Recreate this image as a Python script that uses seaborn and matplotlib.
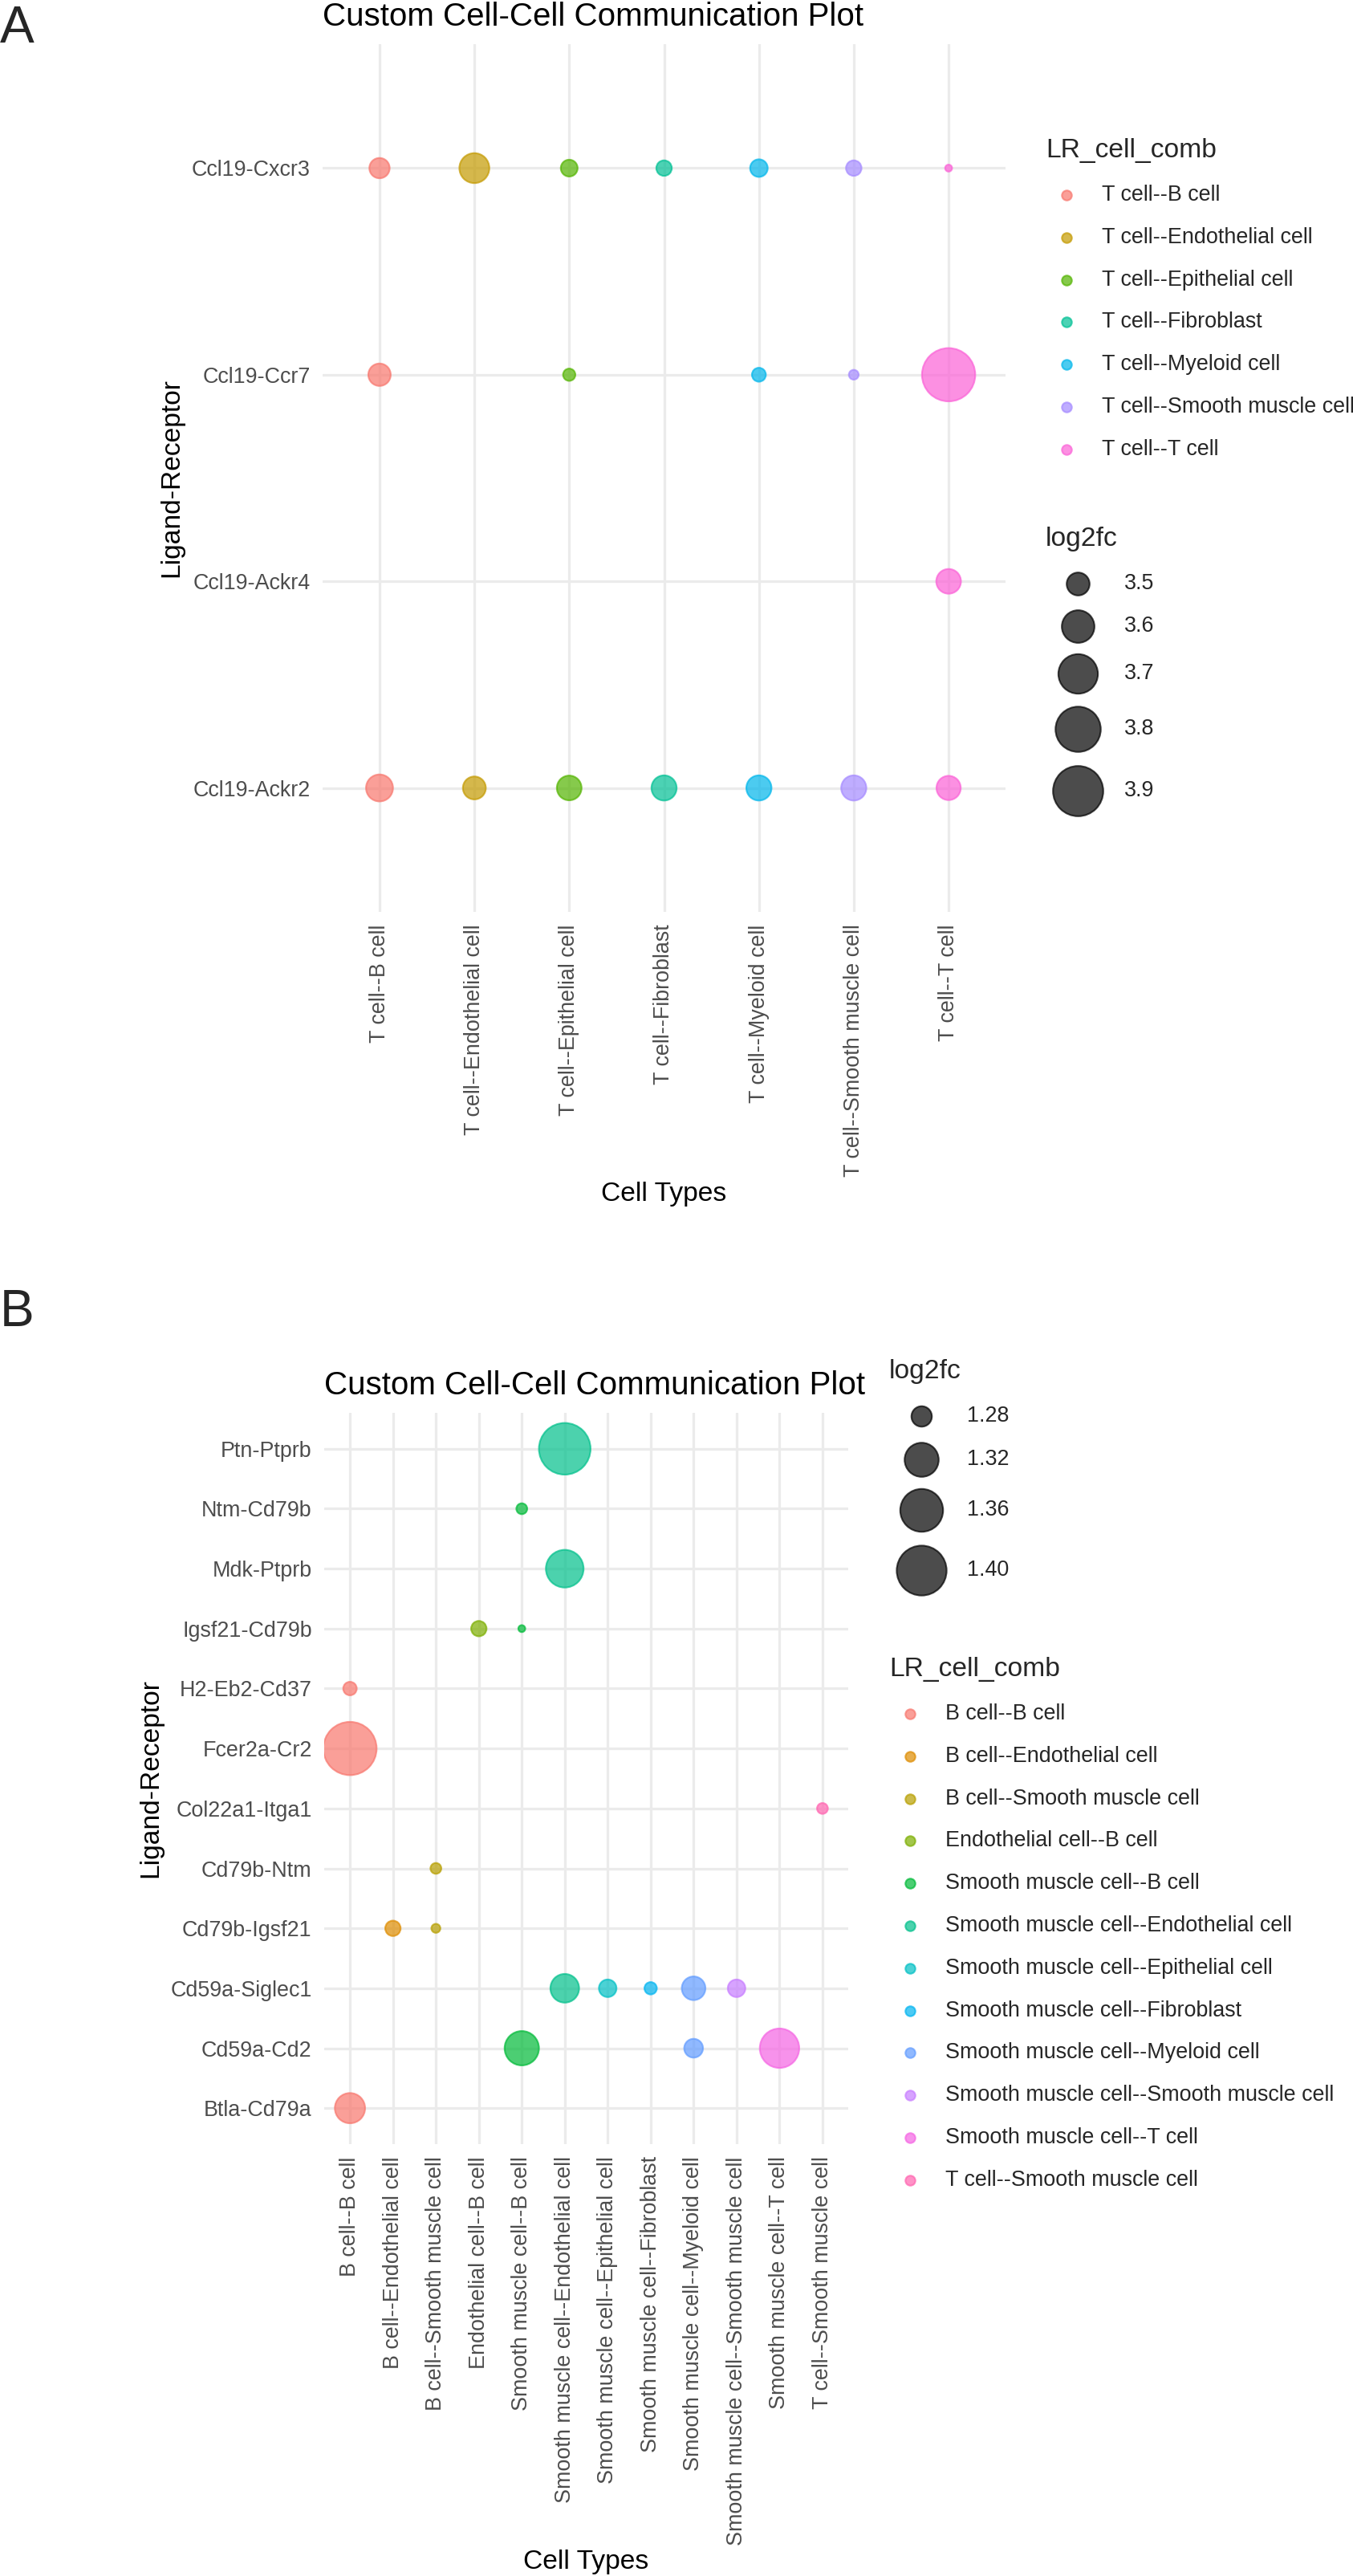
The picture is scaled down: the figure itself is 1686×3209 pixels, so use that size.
import numpy as np
import pandas as pd
import seaborn as sns
import matplotlib
matplotlib.use("Agg")
from matplotlib import pyplot as plt

sns.set_theme(style="white")
plt.rcParams['font.family'] = ['Liberation Sans', 'DejaVu Sans']

DPI = 220
W, H = 1686, 3209
PX = 72 / DPI          # points per pixel
EDGE = 0.7             # point outline width (pt)
ALPHA = 0.7

# ---------------- panel A data ----------------
a_pairs = ["Ccl19-Ackr2", "Ccl19-Ackr4", "Ccl19-Ccr7", "Ccl19-Cxcr3"]   # bottom -> top
a_cells = ["T cell--B cell", "T cell--Endothelial cell", "T cell--Epithelial cell",
           "T cell--Fibroblast", "T cell--Myeloid cell", "T cell--Smooth muscle cell",
           "T cell--T cell"]
a_lr = (["Ccl19-Cxcr3"] * 7 + ["Ccl19-Ccr7"] * 5 + ["Ccl19-Ackr4"] + ["Ccl19-Ackr2"] * 7)
a_comb = (a_cells
          + ["T cell--B cell", "T cell--Epithelial cell", "T cell--Myeloid cell",
             "T cell--Smooth muscle cell", "T cell--T cell"]
          + ["T cell--T cell"]
          + a_cells)
a_log2fc = [3.481, 3.568, 3.461, 3.455, 3.465, 3.455, 3.437,
            3.496, 3.444, 3.449, 3.439, 3.968,
            3.515,
            3.536, 3.500, 3.515, 3.519, 3.519, 3.519, 3.511]
a_colors = ["#F8766D", "#C49A00", "#53B400", "#00C094", "#00B6EB", "#A58AFF", "#FB61D7"]
a_size_breaks = [3.5, 3.6, 3.7, 3.8, 3.9]

# ---------------- panel B data ----------------
b_pairs = ["Btla-Cd79a", "Cd59a-Cd2", "Cd59a-Siglec1", "Cd79b-Igsf21", "Cd79b-Ntm",
           "Col22a1-Itga1", "Fcer2a-Cr2", "H2-Eb2-Cd37", "Igsf21-Cd79b", "Mdk-Ptprb",
           "Ntm-Cd79b", "Ptn-Ptprb"]
b_cells = ["B cell--B cell", "B cell--Endothelial cell", "B cell--Smooth muscle cell",
           "Endothelial cell--B cell", "Smooth muscle cell--B cell",
           "Smooth muscle cell--Endothelial cell", "Smooth muscle cell--Epithelial cell",
           "Smooth muscle cell--Fibroblast", "Smooth muscle cell--Myeloid cell",
           "Smooth muscle cell--Smooth muscle cell", "Smooth muscle cell--T cell",
           "T cell--Smooth muscle cell"]
b_lr = ["Ptn-Ptprb", "Ntm-Cd79b", "Mdk-Ptprb", "Igsf21-Cd79b", "Igsf21-Cd79b",
        "H2-Eb2-Cd37", "Fcer2a-Cr2", "Col22a1-Itga1", "Cd79b-Ntm", "Cd79b-Igsf21",
        "Cd79b-Igsf21", "Cd59a-Siglec1", "Cd59a-Siglec1", "Cd59a-Siglec1",
        "Cd59a-Siglec1", "Cd59a-Siglec1", "Cd59a-Cd2", "Cd59a-Cd2", "Cd59a-Cd2",
        "Btla-Cd79a"]
b_comb = ["Smooth muscle cell--Endothelial cell", "Smooth muscle cell--B cell",
          "Smooth muscle cell--Endothelial cell", "Endothelial cell--B cell",
          "Smooth muscle cell--B cell", "B cell--B cell", "B cell--B cell",
          "T cell--Smooth muscle cell", "B cell--Smooth muscle cell",
          "B cell--Endothelial cell", "B cell--Smooth muscle cell",
          "Smooth muscle cell--Endothelial cell", "Smooth muscle cell--Epithelial cell",
          "Smooth muscle cell--Fibroblast", "Smooth muscle cell--Myeloid cell",
          "Smooth muscle cell--Smooth muscle cell", "Smooth muscle cell--B cell",
          "Smooth muscle cell--Myeloid cell", "Smooth muscle cell--T cell",
          "B cell--B cell"]
b_log2fc = [1.411, 1.268, 1.335, 1.272, 1.2669, 1.270, 1.4218, 1.268, 1.268, 1.272,
            1.2672, 1.301, 1.275, 1.269, 1.287, 1.275, 1.321, 1.277, 1.343, 1.306]
b_colors = ["#F8766D", "#DE8C00", "#B79F00", "#7CAE00", "#00BA38", "#00C08B",
            "#00BFC4", "#00B4F0", "#619CFF", "#C77CFF", "#F564E3", "#FF64B0"]
b_size_breaks = [1.28, 1.32, 1.36, 1.40]


def diam_px(v, lo, hi):
    # ggplot-like size scale: diameter grows with sqrt of the rescaled value
    t = np.clip((np.asarray(v, float) - lo) / (hi - lo), 0, 1)
    return 10.8 + 57.7 * np.sqrt(t)


def area(d):
    return (d * PX - EDGE) ** 2


def panel(ax, lr, comb, fc, pairs, cells, colors):
    df = pd.DataFrame({"lr": lr, "comb": comb, "log2fc": fc})
    df["lr"] = pd.Categorical(df["lr"], categories=pairs, ordered=True)
    df["comb"] = pd.Categorical(df["comb"], categories=cells, ordered=True)
    lo, hi = df["log2fc"].min(), df["log2fc"].max()
    sizes = {v: area(diam_px(v, lo, hi)) for v in df["log2fc"].unique()}
    sns.scatterplot(data=df, x="comb", y="lr", hue="comb", size="log2fc",
                    sizes=sizes, palette=dict(zip(cells, colors)), alpha=ALPHA,
                    edgecolor="face", linewidth=EDGE, legend=False, ax=ax, zorder=3)
    ax.set_xlim(-0.6, len(cells) - 0.4)
    ax.set_ylim(-0.6, len(pairs) - 0.4)
    ax.grid(True, color="#EBEBEB", linewidth=1.07)
    ax.set_axisbelow(True)
    sns.despine(ax=ax, left=True, bottom=True)
    ax.tick_params(length=0, pad=5, labelsize=8.8, labelcolor="#4D4D4D")
    ax.tick_params(axis="x", labelrotation=90)
    ax.set_title("Custom Cell-Cell Communication Plot", loc="left", pad=7.6,
                 fontsize=13.2, color="black")
    ax.set_xlabel("Cell Types", fontsize=11, labelpad=1.8, color="black")
    ax.set_ylabel("Ligand-Receptor", fontsize=11, labelpad=3, color="black")
    return lo, hi


KEY = 52.8   # legend key height in px


def hue_legend(lax, x0, base, labels, colors):
    lax.text(x0, base, "LR_cell_comb", fontsize=11, va="baseline", ha="left")
    top = base + 20.5
    for i, (lab, col) in enumerate(zip(labels, colors)):
        cy = top + KEY * (i + 0.5)
        lax.scatter([x0 + KEY / 2], [cy], s=area(14.5), color=col, alpha=ALPHA,
                    edgecolor="face", linewidth=EDGE, clip_on=False)
        lax.text(x0 + KEY + 16.8, cy, lab, fontsize=8.8, va="center", ha="left")


def size_legend(lax, x0, base, breaks, lo, hi, fmt):
    lax.text(x0, base, "log2fc", fontsize=11, va="baseline", ha="left")
    d = diam_px(breaks, lo, hi)
    h = np.maximum(KEY, 1.25 * d)
    kw = h.max()
    y = base + 20.5
    for b, di, hi_ in zip(breaks, d, h):
        cy = y + hi_ / 2
        lax.scatter([x0 + kw / 2], [cy], s=area(di), color="black", alpha=ALPHA,
                    edgecolor="face", linewidth=EDGE, clip_on=False)
        lax.text(x0 + kw + 16.8, cy, fmt.format(b), fontsize=8.8, va="center", ha="left")
        y += hi_


fig = plt.figure(figsize=(W / DPI, H / DPI), dpi=DPI)
axA = fig.add_axes([402 / W, 1 - 1136 / H, 851 / W, 1081 / H])
axB = fig.add_axes([404 / W, 1 - 2671 / H, 653 / W, 911 / H])

loA, hiA = panel(axA, a_lr, a_comb, a_log2fc, a_pairs, a_cells, a_colors)
loB, hiB = panel(axB, b_lr, b_comb, b_log2fc, b_pairs, b_cells, b_colors)

lax = fig.add_axes([0, 0, 1, 1], facecolor="none")
lax.set_xlim(0, W)
lax.set_ylim(H, 0)
lax.axis("off")

hue_legend(lax, 1303, 196, a_cells, a_colors)
size_legend(lax, 1303, 680, a_size_breaks, loA, hiA, "{:.1f}")
size_legend(lax, 1108, 1717, b_size_breaks, loB, hiB, "{:.2f}")
hue_legend(lax, 1108, 2088, b_cells, b_colors)

lax.text(0, 52.6, "A", fontsize=21, va="baseline", ha="left")
lax.text(0, 1652, "B", fontsize=21, va="baseline", ha="left")

fig.savefig("out.png", dpi=DPI)
